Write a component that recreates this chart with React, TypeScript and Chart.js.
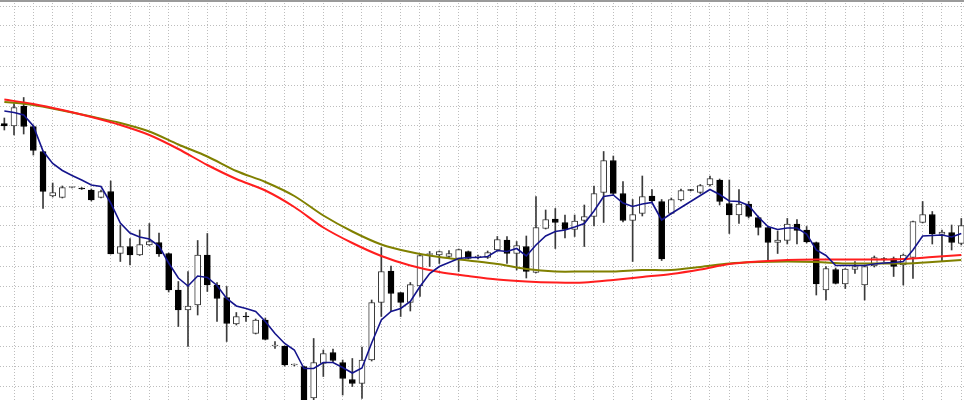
import { useEffect, useRef } from "react";
import { Chart, registerables } from "chart.js";

Chart.register(...registerables);

// OHLC candles (price units), one per bar, left to right
const opens = [1282.5, 1280, 1300, 1279.5, 1254.5, 1210, 1208.5, 1218.5, 1218, 1216,
  1208.5, 1214.5, 1152.5, 1159.5, 1151, 1161, 1163.5, 1152.5, 1116, 1096,
  1101, 1151, 1121, 1108.5, 1082, 1089.5, 1072.5, 1086, 1060, 1060,
  1041, 1039.5, 1008, 1042.5, 1053.5, 1043.5, 1026.5, 1022.5, 1046, 1103.5,
  1135, 1113.5, 1103.5, 1120, 1151.5, 1151, 1149.5, 1147.5, 1154.5, 1149,
  1148.5, 1156, 1166, 1152.5, 1159.5, 1133.5, 1177.5, 1187, 1183.5, 1176.5,
  1185.5, 1189.5, 1213.5, 1245.5, 1212.5, 1185.5, 1192.5, 1210, 1204.5, 1192.5,
  1206, 1216, 1213.5, 1221, 1226, 1202.5, 1191, 1202, 1188.5, 1178.5,
  1163.5, 1165.5, 1182, 1176, 1163.5, 1116, 1136.5, 1122, 1136.5, 1121,
  1140, 1147, 1147.5, 1141, 1148.5, 1183.5, 1191.5, 1171.5, 1173.5, 1162.5];

const highs = [1288, 1302.5, 1308.5, 1281, 1255, 1223, 1220, 1219, 1218.5, 1217,
  1216, 1225, 1181, 1167.5, 1176, 1182.5, 1173, 1153, 1124.5, 1134.5,
  1165.5, 1172.5, 1123.5, 1119.5, 1093.5, 1093.5, 1087, 1088, 1064.5, 1060,
  1042, 1040, 1067.5, 1056, 1057, 1046, 1047.5, 1059, 1106, 1158.5,
  1140, 1113.5, 1123.5, 1152, 1154.5, 1155, 1155.5, 1157, 1155, 1151,
  1155, 1169.5, 1169.5, 1164.5, 1170, 1209.5, 1196, 1197.5, 1191, 1191,
  1201, 1220, 1254.5, 1250, 1224.5, 1206.5, 1230, 1216.5, 1206.5, 1208,
  1217, 1216.5, 1221.5, 1230, 1227, 1226, 1216.5, 1204.5, 1190, 1179.5,
  1175, 1187.5, 1186.5, 1179.5, 1164, 1139.5, 1138, 1137.5, 1144.5, 1140,
  1150, 1148.5, 1149, 1152, 1185, 1204.5, 1194.5, 1176, 1181, 1187.5];

const lows = [1276, 1271, 1272, 1251, 1197.5, 1209, 1208, 1218, 1216.5, 1205,
  1208, 1152, 1144.5, 1141, 1150.5, 1160.5, 1149.5, 1114, 1079.5, 1059.5,
  1091, 1114.5, 1084.5, 1064.5, 1081, 1084.5, 1072, 1066, 1057.5, 1040,
  1040, 1002, 1004, 1029.5, 1044, 1011, 1019.5, 1007.5, 1045, 1089.5,
  1094.5, 1089.5, 1095, 1109.5, 1139.5, 1142.5, 1147.5, 1134.5, 1147, 1147,
  1147.5, 1155, 1142.5, 1136, 1128, 1133, 1177, 1157.5, 1168, 1169.5,
  1159.5, 1180, 1183.5, 1211, 1184, 1144.5, 1190, 1204, 1145.5, 1192,
  1205, 1215, 1212.5, 1220, 1201, 1172.5, 1182.5, 1188, 1171, 1146,
  1152.5, 1162, 1162, 1163, 1111, 1106, 1122, 1117.5, 1132.5, 1106,
  1139, 1144.5, 1129.5, 1121, 1127.5, 1183, 1162, 1144.5, 1156, 1161];

const closes = [1280, 1298.5, 1279.5, 1255.5, 1214.5, 1213.5, 1218.5, 1218.5, 1217, 1206,
  1214.5, 1152, 1159.5, 1151, 1161.5, 1164.5, 1152, 1116, 1096, 1100,
  1151, 1121, 1107.5, 1082.5, 1089.5, 1089, 1086, 1066.5, 1060, 1041,
  1041, 1006, 1043.5, 1052.5, 1045.5, 1027.5, 1022.5, 1046, 1103.5, 1134.5,
  1112.5, 1103.5, 1121.5, 1150.5, 1152.5, 1154.5, 1152.5, 1156.5, 1147.5, 1149.5,
  1153.5, 1166.5, 1152.5, 1160.5, 1134.5, 1178.5, 1186.5, 1183.5, 1176.5, 1185,
  1189.5, 1212.5, 1245.5, 1212.5, 1185.5, 1191.5, 1209.5, 1205, 1147, 1206.5,
  1215.5, 1215.5, 1220.5, 1227.5, 1204.5, 1191, 1202, 1189.5, 1178.5, 1163.5,
  1166, 1182, 1175.5, 1164, 1122, 1137.5, 1122.5, 1137, 1139.5, 1139.5,
  1148.5, 1146.5, 1139.5, 1151, 1184.5, 1191.5, 1172, 1174, 1163.5, 1180.5];

// fast moving average (blue), one value per candle
const blueMA = [1295, 1293.5, 1291, 1280, 1255, 1242.5, 1235.5, 1230.5, 1226, 1221,
  1219.5, 1203, 1183, 1173, 1169, 1167, 1160, 1143, 1128, 1120,
  1130, 1128.5, 1120.5, 1107.5, 1100, 1097.5, 1094.5, 1084.5, 1072.5, 1062.5,
  1056, 1037.5, 1037.5, 1043.5, 1043.5, 1038.5, 1033, 1038, 1063, 1086,
  1094.5, 1097.5, 1104.5, 1119.5, 1132.5, 1139.5, 1143.5, 1147.5, 1148.5, 1148.5,
  1149.5, 1155.5, 1154.5, 1157.5, 1150, 1161, 1170, 1174.5, 1176, 1179,
  1182.5, 1195, 1209.5, 1211, 1203, 1199.5, 1202, 1203.5, 1186, 1192.5,
  1198.5, 1204.5, 1210.5, 1216.5, 1211.5, 1205, 1204.5, 1200.5, 1189, 1179.5,
  1176.5, 1178, 1178, 1172, 1156, 1150.5, 1140.5, 1140.5, 1140.5, 1140.5,
  1142, 1143, 1143.5, 1144.5, 1156, 1170, 1170.5, 1171, 1169, 1172.5];

// slow moving averages, read at every third candle
const maIdx = [0, 3, 6, 9, 12, 15, 18, 21, 24, 27, 30, 33, 36, 39, 42, 45, 48,
  51, 54, 57, 60, 63, 66, 69, 72, 75, 78, 81, 84, 87, 90, 93, 96, 99];

const redMA = [1306.5, 1302, 1296, 1289, 1281, 1271, 1257, 1241, 1227, 1215.5, 1199,
  1178.5, 1163, 1150, 1140.5, 1134, 1130, 1126.5, 1124.5, 1123.5, 1123.5, 1126,
  1129, 1132, 1136.5, 1142, 1144.5, 1146, 1146.5, 1146.5, 1146.5, 1147, 1149, 1151];

const oliveMA = [1304, 1301, 1295.5, 1289.5, 1283, 1274.5, 1261.5, 1249.5, 1235, 1224, 1210,
  1190.5, 1174.5, 1161.5, 1154, 1149, 1145.5, 1142, 1137, 1134.5, 1134.5, 1134.5,
  1136, 1136, 1139, 1142.5, 1144, 1144.5, 1144, 1142.5, 1142.5, 1142.5, 1144, 1146];

export default function App() {
  const ref = useRef<HTMLCanvasElement | null>(null);

  useEffect(() => {
    document.body.style.margin = "0";
    const canvas = ref.current;
    if (!canvas) return;

    const bodies = opens.map((o, i) => ({ x: i + 1, y: [o, closes[i]] }));
    const wicks = lows.map((l, i) => ({ x: i + 1, y: [l, highs[i]] }));
    const isBull = (i: number) => closes[i] >= opens[i];

    const xGrid = Array.from({ length: 50 }, (_, k) => 2 + 2 * k);
    const yGrid = Array.from({ length: 20 }, (_, k) => 1020 + 20 * k);

    const topBorder = {
      id: "topBorder",
      afterDraw(chart: any) {
        const { ctx, width } = chart;
        ctx.save();
        ctx.fillStyle = "#9a9a9a";
        ctx.fillRect(0, 0, width, 2);
        ctx.restore();
      },
    };

    const gridOpts = { color: "#bdbdbd", lineWidth: 1, drawTicks: false, offset: false };
    const borderOpts = { display: false, dash: [1, 2] };

    const chart = new Chart(canvas, {
      type: "bar",
      data: {
        datasets: [
          {
            type: "line",
            data: blueMA.map((v, i) => ({ x: i + 1, y: v })),
            borderColor: "#14148c",
            borderWidth: 1.6,
            pointRadius: 0,
            tension: 0,
            order: 0,
          },
          {
            type: "line",
            data: redMA.map((v, k) => ({ x: maIdx[k] + 1, y: v })),
            borderColor: "#ff1e1e",
            borderWidth: 2,
            pointRadius: 0,
            tension: 0.3,
            order: 1,
          },
          {
            type: "line",
            data: oliveMA.map((v, k) => ({ x: maIdx[k] + 1, y: v })),
            borderColor: "#808000",
            borderWidth: 2,
            pointRadius: 0,
            tension: 0.3,
            order: 2,
          },
          {
            type: "bar",
            data: bodies,
            backgroundColor: (ctx: any) => (isBull(ctx.dataIndex) ? "#ffffff" : "#000000"),
            borderColor: (ctx: any) => (isBull(ctx.dataIndex) ? "#3a3a3a" : "#000000"),
            borderWidth: 1,
            borderSkipped: false,
            barThickness: 6,
            minBarLength: 1,
            grouped: false,
            order: 3,
          },
          {
            type: "bar",
            data: wicks,
            backgroundColor: "#3a3a3a",
            borderWidth: 0,
            barThickness: 1,
            grouped: false,
            order: 4,
          },
        ] as any,
      },
      options: {
        animation: false,
        responsive: false,
        devicePixelRatio: 1,
        events: [],
        layout: { padding: 0 },
        plugins: { legend: { display: false }, tooltip: { enabled: false } },
        scales: {
          x: {
            type: "linear",
            min: 0.55,
            max: 100.28,
            offset: false,
            ticks: { display: false },
            grid: gridOpts,
            border: borderOpts,
            afterBuildTicks: (s: any) => {
              s.ticks = xGrid.map((v) => ({ value: v }));
            },
          },
          y: {
            type: "linear",
            min: 1006,
            max: 1406,
            ticks: { display: false },
            grid: gridOpts,
            border: borderOpts,
            afterBuildTicks: (s: any) => {
              s.ticks = yGrid.map((v) => ({ value: v }));
            },
          },
        },
      } as any,
      plugins: [topBorder],
    });

    return () => chart.destroy();
  }, []);

  return (
    <div style={{ width: 964, height: 400, background: "#ffffff" }}>
      <canvas ref={ref} width={964} height={400} style={{ display: "block" }} />
    </div>
  );
}
